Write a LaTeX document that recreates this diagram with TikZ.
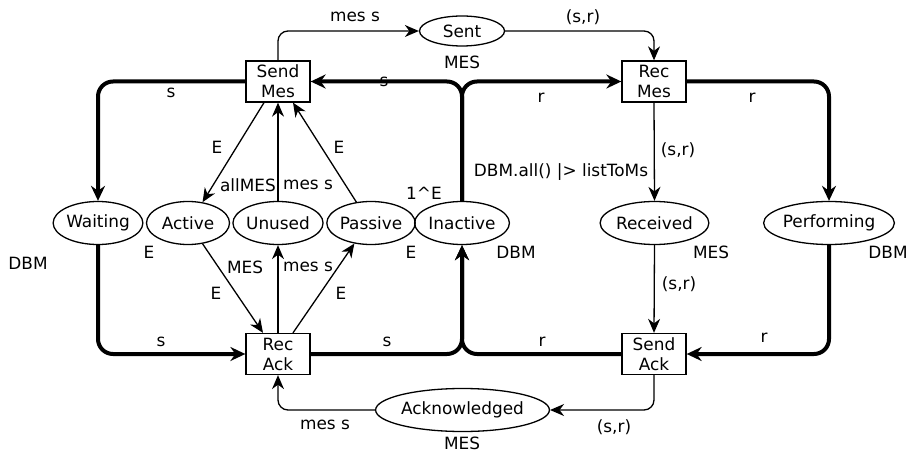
\documentclass[tikz,border=0pt]{standalone}
\usepackage{fontspec}
\setmainfont{DejaVu Sans}
\usetikzlibrary{arrows.meta,shapes.geometric}
\begin{document}
\begin{tikzpicture}[x=1pt,y=-1pt,
  font=\fontsize{16.9}{20}\selectfont,
  trans/.style={draw,line width=1.3pt,minimum width=64pt,minimum height=41pt,inner sep=0pt,align=center},
  place/.style={draw,ellipse,line width=1.3pt,minimum height=43pt,inner sep=0pt},
  thickarc/.style={line width=4pt,rounded corners=15pt,-{Stealth[length=15pt,width=14pt,inset=5pt]}},
  thinarc/.style={line width=1.3pt,rounded corners=10pt,-{Stealth[length=14pt,width=12pt,inset=4.5pt]}},
  lbl/.style={inner sep=0pt}]
\useasboundingbox (0,0) rectangle (912,454);

% transitions
\node[trans] (sm) at (278,81.5) {Send\\Mes};
\node[trans] (rm) at (654,81.5) {Rec\\Mes};
\node[trans] (ra) at (278,354) {Rec\\Ack};
\node[trans] (sa) at (654,354) {Send\\Ack};

% places
\node[place,minimum width=83pt] (waiting) at (98,223) {Waiting};
\node[place,minimum width=83pt] (active) at (188,223) {Active};
\node[place,minimum width=84pt] (unused) at (278,223) {Unused};
\node[place,minimum width=84pt] (passive) at (371,223) {Passive};
\node[place,minimum width=84pt] (inactive) at (462,223) {Inactive};
\node[place,minimum width=97pt] (received) at (654.5,223) {Received};
\node[place,minimum width=115pt] (performing) at (829,223) {Performing};
\node[place,minimum width=85pt,minimum height=30pt] (sent) at (462,31) {Sent};
\node[place,minimum width=149pt] (ack) at (462.5,410) {Acknowledged};

% thick arcs
\draw[thickarc] (sm.west) -| (waiting.north);
\draw[thickarc] (waiting.south) |- (ra.west);
\draw[thickarc] (inactive.north) |- (sm.east);
\draw[thickarc] (inactive.north) |- (rm.west);
\draw[thickarc] (ra.east) -| (inactive.south);
\draw[thickarc] (sa.west) -| (inactive.south);
\draw[thickarc] (rm.east) -| (performing.north);
\draw[thickarc] (performing.south) |- (sa.east);

% thin arcs
\draw[thinarc] (sm.north) |- (sent.west);
\draw[thinarc] (sent.east) -| (rm.north);
\draw[thinarc] ([xshift=-14pt]sm.south) -- (active.55);
\draw[thinarc] (unused.north) -- (sm.south);
\draw[thinarc] (passive.125) -- ([xshift=15pt]sm.south);
\draw[thinarc] (active.-55) -- ([xshift=-15pt]ra.north);
\draw[thinarc] (ra.north) -- (unused.south);
\draw[thinarc] ([xshift=15pt]ra.north) -- (passive.-129);
\draw[thinarc] (rm.south) -- (received.north);
\draw[thinarc] (received.south) -- (sa.north);
\draw[thinarc] (sa.south) |- (ack.east);
\draw[thinarc] (ack.west) -| (ra.south);

% arc inscriptions
\node[lbl] (l1) at (355,17) {mes s};
\node[lbl] (l2) at (583,17) {(s,r)};
\node[lbl] (l3) at (171,93) {s};
\node[lbl] (l4) at (384,82) {s};
\node[lbl] (l5) at (541,98) {r};
\node[lbl] (l6) at (752,98) {r};
\node[lbl] (l7) at (678,150) {(s,r)};
\node[lbl] (l8) at (217,147) {E};
\node[lbl] (l9) at (339,147) {E};
\node[lbl] (l10) at (308,185) {mes s};
\node[lbl] (l11) at (216,293) {E};
\node[lbl] (l12) at (341,293) {E};
\node[lbl] (l13) at (308,267) {mes s};
\node[lbl] (l14) at (161,342) {s};
\node[lbl] (l15) at (387,342) {s};
\node[lbl] (l16) at (542,342) {r};
\node[lbl] (l17) at (764,338) {r};
\node[lbl] (l18) at (679,284) {(s,r)};
\node[lbl] (l19) at (614,427) {(s,r)};
\node[lbl] (l20) at (325,425) {mes s};

% colour sets and initial markings
\node[lbl] (c1) at (462,62) {MES};
\node[lbl] (c2) at (28,263) {DBM};
\node[lbl] (c3) at (149,252) {E};
\node[lbl] (c4) at (245,267) {MES};
\node[lbl] (c5) at (411,252) {E};
\node[lbl] (c6) at (516,252) {DBM};
\node[lbl] (c7) at (711,252) {MES};
\node[lbl] (c8) at (888,252) {DBM};
\node[lbl] (c9) at (462,443) {MES};
\node[lbl] (m1) at (248,185) {allMES};
\node[lbl] (m2) at (424,193) {1\^{}E};
\node[lbl] (m3) at (561,172) {DBM.all() |> listToMs};
\end{tikzpicture}
\end{document}
